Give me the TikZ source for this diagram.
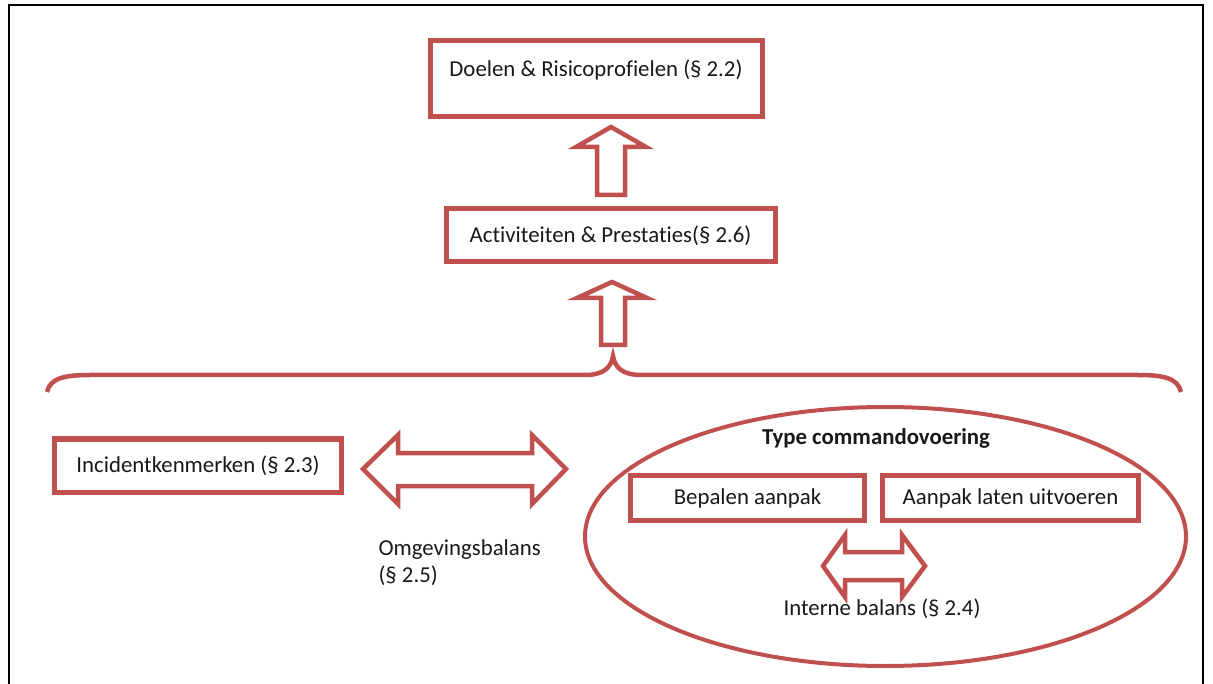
\documentclass[tikz,border=0pt]{standalone}
\usepackage{fontspec}
\setmainfont{Carlito}[Ligatures=NoCommon]
\usetikzlibrary{shapes.geometric}
\definecolor{accred}{RGB}{192,80,77}
\begin{document}
\begin{tikzpicture}[x=1pt,y=-1pt,
  every node/.style={font=\fontsize{22.8}{27}\selectfont, text=black!90},
  box/.style={draw=accred, line width=5pt, inner sep=0pt, fill=white},
  blockarrow/.style={draw=accred, line width=4.5pt, line join=miter, fill=white},
  bracestyle/.style={draw=accred, line width=4.5pt},
  framestyle/.style={draw=black, line width=2pt}]
\useasboundingbox (0,0) rectangle (1213,684);
% frame
\draw[framestyle] (9,684) -- (9,5) -- (1203,5) -- (1203,684);
% boxes
\node[box, minimum width=332pt, minimum height=76pt] (doel) at (596,79) {};
\node (doeltxt) at (596,70) {Doelen \& Risicoprofielen (§ 2.2)};
\node[box, minimum width=329pt, minimum height=53pt] (act) at (610.5,235.5) {Activiteiten \& Prestaties(§ 2.6)};
\node[box, minimum width=287pt, minimum height=53pt] (inc) at (198,465.5) {Incidentkenmerken (§ 2.3)};
% ellipse
\node[ellipse, draw=accred, line width=4pt, minimum width=601pt, minimum height=259pt, inner sep=0pt] (cmd) at (885.5,536.5) {};
\node[font=\fontsize{22.8}{27}\selectfont\bfseries] (cmdtitle) at (876,438) {Type commandovoering};
\node[box, line width=4.5pt, minimum width=234pt, minimum height=45pt] (bep) at (747.5,498) {Bepalen aanpak};
\node[box, line width=4.5pt, minimum width=256pt, minimum height=45pt] (aan) at (1010.5,498) {Aanpak laten uitvoeren};
% up arrows
\draw[blockarrow] (597,195) -- (597,147) -- (576,147) -- (611,127) -- (646,147) -- (625,147) -- (625,195) -- cycle;
\draw[blockarrow] (601,345) -- (601,298) -- (577,298) -- (612,282) -- (647,298) -- (625,298) -- (625,345) -- cycle;
% brace
\draw[bracestyle] (47,392) .. controls (50,378) and (65,375) .. (90,375) -- (585,375)
  .. controls (603,375) and (611,368) .. (613,356)
  .. controls (615,368) and (623,375) .. (641,375) -- (1138,375)
  .. controls (1163,375) and (1178,378) .. (1181,392);
% double arrows
\draw[blockarrow] (363,469) -- (398,435) -- (398,453) -- (532,453) -- (532,435) -- (566,469)
  -- (532,504) -- (532,486) -- (398,486) -- (398,504) -- cycle;
\draw[blockarrow] (823,566) -- (845,535) -- (845,552) -- (902,552) -- (902,535) -- (925,566)
  -- (902,597) -- (902,580) -- (845,580) -- (845,597) -- cycle;
% labels
\node[anchor=west, align=left] (omg) at (375,563) {Omgevingsbalans\\(§ 2.5)};
\node (int) at (882,609) {Interne balans (§ 2.4)};
\end{tikzpicture}
\end{document}
